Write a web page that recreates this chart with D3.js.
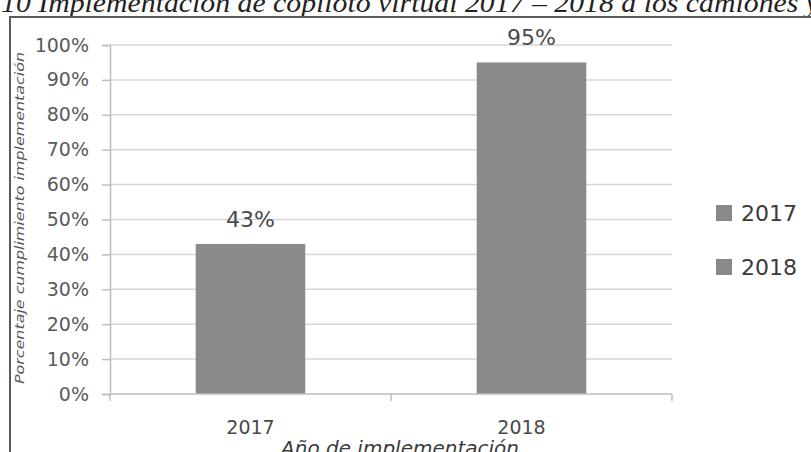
<!DOCTYPE html>
<html>
<head>
<meta charset="utf-8">
<script src="https://cdn.jsdelivr.net/npm/d3@7"></script>
<style>
  body { margin: 0; background: #fff; }
  svg { display: block; }
</style>
</head>
<body>
<svg id="chart"></svg>
<script>
// datos
const years = ["2017", "2018"];
const values = [43, 95];
const legendLabels = ["2017", "2018"];
const titleText = "10 Implementación de copiloto virtual 2017 – 2018 a los camiones y";
const yTitle = "Porcentaje cumplimiento implementación";
const xTitle = "Año de implementación";

const W = 811, H = 452;
const barColor = "#8a8a8a";
const textColor = "#4a4a4a";

const svg = d3.select("#chart")
  .attr("width", W)
  .attr("height", H)
  .attr("viewBox", [0, 0, W, H]);

// titulo cortado arriba
svg.append("text")
  .attr("x", 1)
  .attr("y", 12)
  .attr("font-family", "Liberation Serif")
  .attr("font-style", "italic")
  .attr("font-size", 27)
  .attr("fill", "#222")
  .attr("textLength", 818)
  .attr("lengthAdjust", "spacingAndGlyphs")
  .text(titleText);

// marco del grafico
svg.append("path")
  .attr("d", `M10,${H + 2}V17H${W + 2}`)
  .attr("fill", "none")
  .attr("stroke", "#5a5a5a")
  .attr("stroke-width", 2);

const x0 = 110, x1 = 672, yTop = 45, yBot = 394;

const x = d3.scaleBand()
  .domain(years)
  .range([x0, x1])
  .paddingInner(0.61)
  .paddingOuter(0.305);

const y = d3.scaleLinear()
  .domain([0, 100])
  .range([yBot, yTop]);

// lineas de cuadricula
svg.append("g")
  .selectAll("line")
  .data(y.ticks(10).filter(d => d > 0))
  .join("line")
  .attr("x1", x0)
  .attr("x2", x1)
  .attr("y1", d => y(d))
  .attr("y2", d => y(d))
  .attr("stroke", "#d6d6d6")
  .attr("stroke-width", 1.5);

// eje y
const yAxis = svg.append("g")
  .attr("transform", `translate(${x0},0)`)
  .call(d3.axisLeft(y).ticks(10).tickFormat(d => d + "%").tickSize(8).tickPadding(13));
yAxis.select(".domain").attr("stroke", "#bdbdbd").attr("stroke-width", 1.5);
yAxis.selectAll(".tick line").attr("stroke", "#bdbdbd").attr("stroke-width", 1.5);
yAxis.selectAll(".tick text")
  .attr("font-family", "DejaVu Sans")
  .attr("font-size", 19)
  .attr("fill", "#5a5a5a");

// barras
svg.append("g")
  .selectAll("rect")
  .data(years)
  .join("rect")
  .attr("x", d => x(d))
  .attr("y", (d, i) => y(values[i]))
  .attr("width", x.bandwidth())
  .attr("height", (d, i) => y(0) - y(values[i]))
  .attr("fill", barColor);

// etiquetas de valor
svg.append("g")
  .selectAll("text")
  .data(years)
  .join("text")
  .attr("x", d => x(d) + x.bandwidth() / 2)
  .attr("y", (d, i) => y(values[i]) - 17)
  .attr("text-anchor", "middle")
  .attr("font-family", "DejaVu Sans")
  .attr("font-size", 22)
  .attr("fill", textColor)
  .text((d, i) => values[i] + "%");

// eje x con marcas entre categorias
const xAxisG = svg.append("g");
xAxisG.append("line")
  .attr("x1", x0).attr("x2", x1)
  .attr("y1", yBot).attr("y2", yBot)
  .attr("stroke", "#bdbdbd").attr("stroke-width", 1.5);
const step = x.step();
xAxisG.selectAll("line.tk")
  .data([0, 1, 2])
  .join("line")
  .attr("class", "tk")
  .attr("x1", d => x0 + d * step)
  .attr("x2", d => x0 + d * step)
  .attr("y1", yBot)
  .attr("y2", yBot + 7)
  .attr("stroke", "#bdbdbd").attr("stroke-width", 1.5);
xAxisG.selectAll("text")
  .data(years)
  .join("text")
  .attr("x", (d, i) => x(d) + x.bandwidth() / 2 - i * 10)
  .attr("y", 434)
  .attr("text-anchor", "middle")
  .attr("font-family", "DejaVu Sans")
  .attr("font-size", 19)
  .attr("fill", "#4a4a4a")
  .text(d => d);

// titulos de ejes
svg.append("text")
  .attr("x", 400)
  .attr("y", 455)
  .attr("text-anchor", "middle")
  .attr("font-family", "DejaVu Sans")
  .attr("font-style", "italic")
  .attr("font-size", 20)
  .attr("fill", "#3a3a3a")
  .text(xTitle);

svg.append("text")
  .attr("transform", "translate(24,218) rotate(-90)")
  .attr("text-anchor", "middle")
  .attr("font-family", "DejaVu Sans")
  .attr("font-style", "italic")
  .attr("font-size", 12)
  .attr("textLength", 332)
  .attr("lengthAdjust", "spacingAndGlyphs")
  .attr("fill", "#555")
  .text(yTitle);

// leyenda
const legend = svg.append("g")
  .selectAll("g")
  .data(legendLabels)
  .join("g")
  .attr("transform", (d, i) => `translate(716,${213 + i * 54})`);
legend.append("rect")
  .attr("x", 0).attr("y", -8)
  .attr("width", 16).attr("height", 16)
  .attr("fill", barColor);
legend.append("text")
  .attr("x", 25)
  .attr("y", 8)
  .attr("font-family", "DejaVu Sans")
  .attr("font-size", 22)
  .attr("fill", "#3a3a3a")
  .text(d => d);
</script>
</body>
</html>
